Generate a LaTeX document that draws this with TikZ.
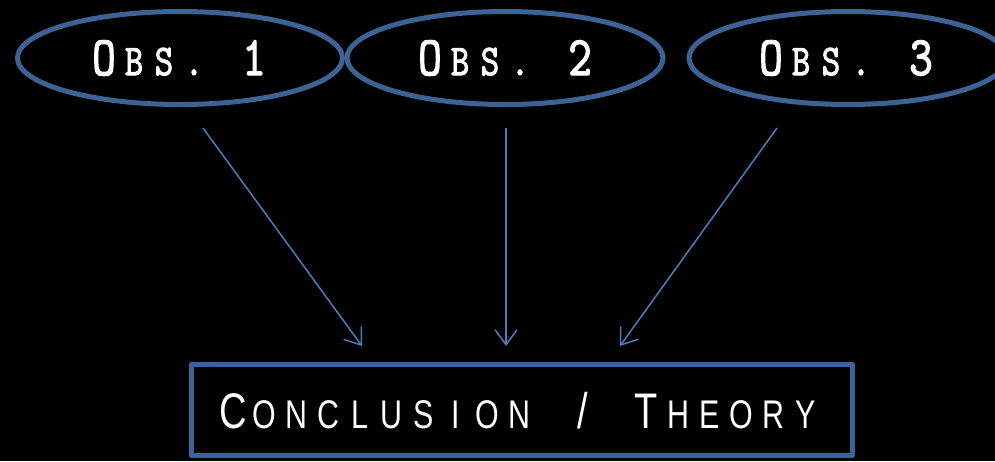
\documentclass[tikz,border=0pt]{standalone}
\usepackage{fontspec}
\usetikzlibrary{shapes.geometric,arrows.meta}

\definecolor{shapeblue}{HTML}{3D6395}
\definecolor{arrowblue}{HTML}{4A7EBB}

% slab-serif typewriter for the observations, condensed sans for the conclusion
\newfontfamily\obsfont[Extension=.otf,FakeStretch=0.8,FakeBold=2]{lmmono10-regular}
\newfontfamily\concfont[FakeStretch=0.76]{Liberation Sans}

% every character sits in a fixed-width cell (tracked small caps)
\newlength\cellw
\newcommand\cell[1]{\makebox[\cellw][c]{#1}}
\newcommand\obsbig{\obsfont\fontsize{56}{56}\selectfont}
\newcommand\obssmall{\obsfont\fontsize{44}{44}\selectfont}
\newcommand\concbig{\concfont\fontsize{50}{50}\selectfont}
\newcommand\concsmall{\concfont\fontsize{40}{40}\selectfont}

\newcommand\obstext[1]{\setlength\cellw{30pt}%
  \cell{\obsbig O}\cell{\obssmall B}\cell{\obssmall S}\cell{\obssmall .}\cell{}\cell{\obsbig #1}}
\newcommand\conctext{\setlength\cellw{31.8pt}%
  \cell{\concbig C}\cell{\concsmall O}\cell{\concsmall N}\cell{\concsmall C}\cell{\concsmall L}%
  \cell{\concsmall U}\cell{\concsmall S}\cell{\concsmall I}\cell{\concsmall O}\cell{\concsmall N}%
  \cell{}\cell{\concbig /}\cell{}%
  \cell{\concbig T}\cell{\concsmall H}\cell{\concsmall E}\cell{\concsmall O}\cell{\concsmall R}\cell{\concsmall Y}}

\tikzset{
  obsnode/.style={ellipse, draw=shapeblue, line width=5pt, inner sep=0pt,
    minimum height=93pt, text=white},
  concnode/.style={rectangle, draw=shapeblue, line width=5pt, line join=round,
    inner sep=0pt, minimum width=661pt, minimum height=91pt, text=white},
  link/.style={draw=arrowblue, line width=1.5pt,
    -{Straight Barb[length=15pt,width=22pt,line width=1.5pt]}}
}

\begin{document}
\begin{tikzpicture}[x=1pt,y=-1pt]
  \fill[black] (0,0) rectangle (995,461);
  \useasboundingbox (0,0) rectangle (995,461);

  \node[obsnode, minimum width=325pt] (o1) at (180,58) {};
  \node[obsnode, minimum width=316pt] (o2) at (505,58) {};
  \node[obsnode, minimum width=318pt] (o3) at (848,58) {};
  \node[text=white, inner sep=0pt] (t1) at (179,58) {\obstext{1}};
  \node[text=white, inner sep=0pt] (t2) at (505,58) {\obstext{2}};
  \node[text=white, inner sep=0pt] (t3) at (846,58) {\obstext{3}};

  \node[concnode] (c) at (522,410) {};
  \node[text=white, inner sep=0pt] (ct) at (519,411) {\conctext};

  \draw[link] ([shift={(23,21)}]o1.south) -- ([shift={(-160,-16)}]c.north);
  \draw[link] ([shift={(1,21)}]o2.south) -- ([shift={(-16,-16)}]c.north);
  \draw[link] ([shift={(-71,21)}]o3.south) -- ([shift={(98,-16)}]c.north);
\end{tikzpicture}
\end{document}
